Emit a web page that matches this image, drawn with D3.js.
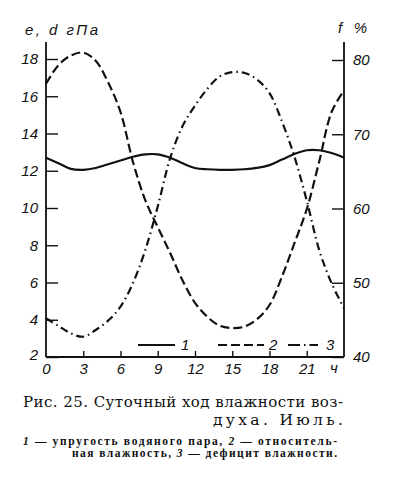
<!DOCTYPE html>
<html>
<head>
<meta charset="utf-8">
<script src="https://cdn.jsdelivr.net/npm/d3@7"></script>
<style>
  body { margin: 0; background: #fff; }
  svg { display: block; }
  .tick text { font-family: "Liberation Sans", Arial, sans-serif; font-style: italic; font-size: 14px; fill: #111; }
  .tick line { stroke: #111; stroke-width: 1.4; }
  .lbl { font-family: "Liberation Sans", Arial, sans-serif; font-style: italic; fill: #111; }
  .cap { font-family: "DejaVu Serif", "Liberation Serif", serif; fill: #111; }
  .note { font-family: "Liberation Serif", "Times New Roman", serif; fill: #111; }
</style>
</head>
<body>
<div id="chart"></div>
<script>
// hours of the day
var hours = [0,1,2,3,4,5,6,7,8,9,10,11,12,13,14,15,16,17,18,19,20,21,22,23,24];
// 1 - vapour pressure e, hPa (left axis)
var vapour = [12.7,12.4,12.1,12.05,12.15,12.35,12.55,12.75,12.88,12.88,12.7,12.4,12.15,12.08,12.05,12.05,12.08,12.15,12.3,12.6,12.9,13.1,13.1,12.95,12.7];
// 2 - relative humidity f, % (right axis)
var relHum = [76.8,79.3,80.6,81.0,79.9,77.0,73.0,66.3,61.1,57.5,54.0,50.3,47.3,45.4,44.2,43.9,44.1,45.1,47.0,50.8,55.3,59.9,66.3,73.0,75.9];
// 3 - saturation deficit d, hPa (left axis)
var deficit = [4.08,3.67,3.27,3.09,3.45,3.95,4.7,5.96,7.75,10.08,12.68,14.4,15.5,16.4,17.07,17.3,17.25,16.9,16.17,14.65,12.77,10.4,7.75,5.96,4.62];

var leftTicks = [2,4,6,8,10,12,14,16,18];
var rightTicks = [40,50,60,70,80];
var hourTicks = [0,3,6,9,12,15,18,21];

var W = 412, H = 478;

var svg = d3.select("#chart").append("svg")
    .attr("width", W)
    .attr("height", H);

var x = d3.scaleLinear().domain([0, 24]).range([46, 344]);
var yL = d3.scaleLinear().domain([2, 18]).range([357, 59]);
var yR = d3.scaleLinear().domain([40, 80]).range([357, 60]);

// axes (ticks point inward)
var gl = svg.append("g")
    .attr("transform", "translate(" + x(0) + ",0)")
    .call(d3.axisLeft(yL).tickValues(leftTicks).tickSize(-12).tickPadding(8));
gl.selectAll(".tick").filter(function(d){ return d == 2 }).select("text").attr("y", -2);

svg.append("g")
    .attr("transform", "translate(" + x(24) + ",0)")
    .call(d3.axisRight(yR).tickValues(rightTicks).tickSize(-12).tickPadding(9));

var gb = svg.append("g")
    .attr("transform", "translate(0," + yL(2) + ")")
    .call(d3.axisBottom(x).tickValues(hourTicks).tickSize(-6).tickPadding(6));
gb.selectAll(".tick").filter(function(d){ return d == 0 }).select("line").remove();

svg.selectAll(".domain").remove();
svg.selectAll(".tick text").style("font-size", "15px");

// frame lines
var axisTop = yL.range()[1] - 17;
svg.append("line").attr("x1", x(0)).attr("x2", x(0)).attr("y1", axisTop).attr("y2", yL(2))
    .attr("stroke", "#111").attr("stroke-width", 1.8);
svg.append("line").attr("x1", x(24)).attr("x2", x(24)).attr("y1", axisTop).attr("y2", yL(2))
    .attr("stroke", "#111").attr("stroke-width", 1.8);
svg.append("line").attr("x1", x(0)).attr("x2", x(24)).attr("y1", yL(2)).attr("y2", yL(2))
    .attr("stroke", "#111").attr("stroke-width", 1.8);

// axis titles
svg.append("text").attr("class", "lbl")
    .attr("x", 25).attr("y", 35)
    .attr("textLength", 73).attr("lengthAdjust", "spacing")
    .style("font-size", "15px")
    .text("e, d гПа");
svg.append("text").attr("class", "lbl")
    .attr("x", 338).attr("y", 33)
    .attr("textLength", 29).attr("lengthAdjust", "spacing")
    .style("font-size", "15px")
    .text("f %");
svg.append("text").attr("class", "lbl")
    .attr("x", x(24) - 10).attr("y", 373)
    .attr("text-anchor", "middle")
    .style("font-size", "15px")
    .text("ч");

// curves
var series = [
  {key: "1", values: vapour,  y: yL, dash: null},
  {key: "2", values: relHum,  y: yR, dash: "9,4"},
  {key: "3", values: deficit, y: yL, dash: "8,4,1.5,4"}
];

series.forEach(function(s){
  var line = d3.line()
      .x(function(d, i){ return x(hours[i]) })
      .y(function(d){ return s.y(d) })
      .curve(d3.curveCatmullRom);
  svg.append("path")
      .datum(s.values)
      .attr("d", line)
      .attr("fill", "none")
      .attr("stroke", "#111")
      .attr("stroke-width", 2.2)
      .attr("stroke-dasharray", s.dash);
});

// legend inside plot
var legend = [
  {key: "1", x1: 138, x2: 175, tx: 181, dash: null},
  {key: "2", x1: 218, x2: 264, tx: 269, dash: "9,4"},
  {key: "3", x1: 288, x2: 318, tx: 326, dash: "12,4,1.5,4"}
];
legend.forEach(function(l){
  svg.append("line")
      .attr("x1", l.x1).attr("x2", l.x2)
      .attr("y1", 345).attr("y2", 345)
      .attr("stroke", "#111").attr("stroke-width", 2)
      .attr("stroke-dasharray", l.dash);
  svg.append("text").attr("class", "lbl")
      .attr("x", l.tx).attr("y", 350)
      .style("font-size", "15px")
      .text(l.key);
});

// caption
svg.append("text").attr("class", "cap")
    .attr("x", 23).attr("y", 407)
    .attr("textLength", 320).attr("lengthAdjust", "spacing")
    .style("font-size", "15px")
    .text("Рис. 25. Суточный ход влажности воз-");
svg.append("text").attr("class", "cap")
    .attr("x", 343).attr("y", 425)
    .attr("text-anchor", "end")
    .attr("textLength", 130).attr("lengthAdjust", "spacing")
    .style("font-size", "15.5px")
    .text("духа. Июль.");

var n1 = svg.append("text").attr("class", "note")
    .attr("x", 23).attr("y", 445)
    .attr("textLength", 314).attr("lengthAdjust", "spacing")
    .style("font-size", "11.5px").style("font-weight", "bold");
n1.append("tspan").style("font-style", "italic").text("1");
n1.append("tspan").text(" — упругость водяного пара, ");
n1.append("tspan").style("font-style", "italic").text("2");
n1.append("tspan").text(" — относитель-");

var n2 = svg.append("text").attr("class", "note")
    .attr("x", 337).attr("y", 457)
    .attr("text-anchor", "end")
    .attr("textLength", 265).attr("lengthAdjust", "spacing")
    .style("font-size", "11.5px").style("font-weight", "bold");
n2.append("tspan").text("ная влажность, ");
n2.append("tspan").style("font-style", "italic").text("3");
n2.append("tspan").text(" — дефицит влажности.");
</script>
</body>
</html>
